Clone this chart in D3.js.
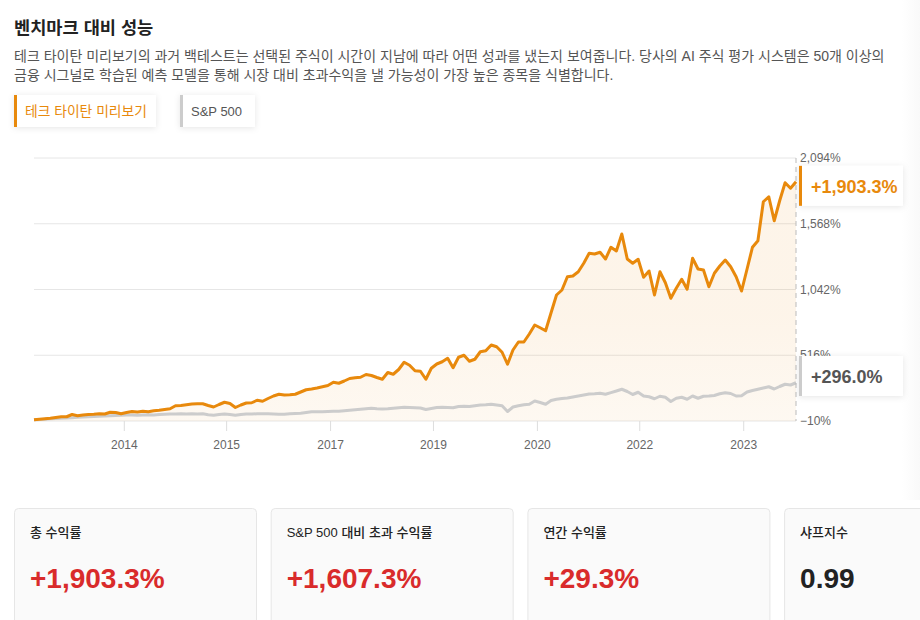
<!DOCTYPE html>
<html>
<head>
<meta charset="utf-8">
<script src="https://cdn.jsdelivr.net/npm/d3@7/dist/d3.min.js"></script>
<style>
  body { margin: 0; background: #fff; }
  svg { display: block; font-family: "Liberation Sans", "Noto Sans CJK KR", sans-serif; }
</style>
</head>
<body>
<svg id="chart" width="920" height="620"></svg>
<script>
const title = '벤치마크 대비 성능';
const description = [
  '테크 타이탄 미리보기의 과거 백테스트는 선택된 주식이 시간이 지남에 따라 어떤 성과를 냈는지 보여줍니다. 당사의 AI 주식 평가 시스템은 50개 이상의',
  '금융 시그널로 학습된 예측 모델을 통해 시장 대비 초과수익을 낼 가능성이 가장 높은 종목을 식별합니다.',
];
const seriesNames = ['테크 타이탄 미리보기', 'S&P 500'];

// cumulative return (%), one value per period
const portfolio = [
  0, 4, 8, 12, 18, 24, 24, 42, 32, 38,
  42, 44, 48, 46, 60, 58, 48, 58, 66, 62,
  68, 64, 72, 76, 82, 88, 112, 114, 120, 126,
  128, 128, 114, 102, 122, 140, 130, 98, 118, 134,
  136, 156, 148, 170, 190, 204, 198, 200, 204, 222,
  240, 246, 254, 264, 274, 300, 292, 310, 330, 336,
  340, 362, 354, 338, 324, 378, 364, 402, 460, 436,
  392, 388, 324, 412, 446, 464, 492, 416, 500, 516,
  468, 484, 544, 552, 598, 584, 540, 444, 558, 622,
  622, 686, 758, 736, 712, 856, 998, 1038, 1144, 1150,
  1184, 1252, 1332, 1326, 1340, 1286, 1380, 1350, 1486, 1286,
  1252, 1284, 1140, 1190, 998, 1184, 1096, 972, 1052, 1124,
  1044, 1292, 1206, 1198, 1064, 1172, 1230, 1278, 1224, 1144,
  1030, 1204, 1380, 1432, 1744, 1784, 1592, 1752, 1896, 1852,
  1903.3,
];
const sp500 = [
  0, 2, 4, 8, 10, 12, 14, 16, 20, 22,
  24, 26, 28, 30, 32, 34, 36, 38, 38, 36,
  38, 40, 38, 42, 44, 46, 46, 48, 46, 48,
  46, 48, 40, 36, 42, 46, 42, 36, 42, 46,
  46, 48, 48, 48, 46, 44, 44, 48, 50, 52,
  58, 64, 64, 64, 66, 68, 68, 72, 76, 80,
  84, 88, 92, 88, 86, 88, 92, 96, 100, 98,
  96, 94, 82, 90, 98, 100, 98, 96, 106, 108,
  106, 112, 118, 120, 124, 118, 112, 66, 102, 112,
  120, 124, 150, 138, 124, 154, 164, 170, 174, 182,
  190, 198, 206, 208, 212, 204, 217, 230, 244, 226,
  202, 220, 190, 184, 168, 188, 180, 146, 172, 180,
  164, 190, 172, 188, 190, 194, 208, 216, 210, 190,
  192, 222, 234, 244, 254, 264, 246, 266, 284, 278,
  296,
];

const yTicks = [-10, 516, 1042, 1568, 2094];
const xTickLabels = ['2014', '2015', '2017', '2019', '2020', '2022', '2023'];
const xTickIndex = [16.5, 35.3, 54.4, 73.3, 92.4, 111.2, 130.3];

const statLabels = ['총 수익률', 'S&P 500 대비 초과 수익률', '연간 수익률', '샤프지수'];
const statValues = ['+1,903.3%', '+1,607.3%', '+29.3%', '0.99'];

const ORANGE = '#e8890c';
const GREY = '#cccccc';
const RED = '#d92b2b';

const margin = { top: 158, right: 124, bottom: 199, left: 34 };
const width = 920 - margin.left - margin.right;
const height = 620 - margin.top - margin.bottom;

const svg = d3.select('#chart');
const defs = svg.append('defs');

const shadow = defs.append('filter')
  .attr('id', 'shadow')
  .attr('x', '-20%').attr('y', '-30%')
  .attr('width', '140%').attr('height', '160%');
shadow.append('feDropShadow')
  .attr('dx', 0).attr('dy', 1)
  .attr('stdDeviation', 3)
  .attr('flood-color', '#000')
  .attr('flood-opacity', 0.1);

const fade = defs.append('linearGradient')
  .attr('id', 'fade')
  .attr('gradientUnits', 'userSpaceOnUse')
  .attr('x1', 0).attr('x2', 0)
  .attr('y1', margin.top).attr('y2', margin.top + height);
fade.append('stop').attr('offset', 0).attr('stop-color', ORANGE).attr('stop-opacity', 0.09);
fade.append('stop').attr('offset', 1).attr('stop-color', ORANGE).attr('stop-opacity', 0.005);

const edge = defs.append('linearGradient')
  .attr('id', 'edge')
  .attr('x1', 0).attr('x2', 1).attr('y1', 0).attr('y2', 0);
edge.append('stop').attr('offset', 0).attr('stop-color', '#fff');
edge.append('stop').attr('offset', 1).attr('stop-color', '#f9f9f9');

svg.append('rect')
  .attr('x', 902).attr('y', 0)
  .attr('width', 18).attr('height', 500)
  .attr('fill', 'url(#edge)');

// header
svg.append('text')
  .attr('x', 14).attr('y', 34)
  .attr('font-size', 17.6)
  .attr('font-weight', 700)
  .attr('fill', '#222')
  .text(title);

svg.append('g')
  .selectAll('text')
  .data(description)
  .join('text')
  .attr('x', 14)
  .attr('y', (d, i) => 61 + i * 19)
  .attr('font-size', 14)
  .attr('fill', '#555')
  .text(d => d);

// legend buttons
const legend = svg.append('g')
  .selectAll('g')
  .data(seriesNames)
  .join('g')
  .attr('transform', (d, i) => `translate(${i === 0 ? 14 : 180}, 95)`);

legend.append('rect')
  .attr('width', (d, i) => (i === 0 ? 142 : 75))
  .attr('height', 32)
  .attr('fill', '#fff')
  .attr('filter', 'url(#shadow)');

legend.append('rect')
  .attr('width', 3)
  .attr('height', 32)
  .attr('fill', (d, i) => (i === 0 ? ORANGE : GREY));

legend.append('text')
  .attr('x', 11)
  .attr('y', 21)
  .attr('font-size', (d, i) => (i === 0 ? 13.8 : 13))
  .attr('fill', (d, i) => (i === 0 ? ORANGE : '#555'))
  .text(d => d);

// chart surface
const surface = svg.append('g')
  .attr('transform', `translate(${margin.left}, ${margin.top})`);

const x = d3.scaleLinear()
  .domain([0, portfolio.length - 1])
  .range([0, width]);

const y = d3.scaleLinear()
  .domain([yTicks[0], yTicks[yTicks.length - 1]])
  .range([height, 0]);

// grid lines
surface.append('g')
  .selectAll('line')
  .data(yTicks)
  .join('line')
  .attr('x1', 0)
  .attr('x2', width)
  .attr('y1', d => y(d))
  .attr('y2', d => y(d))
  .attr('stroke', '#e6e6e6');

// area under the portfolio line
const area = d3.area()
  .x((d, i) => x(i))
  .y0(height)
  .y1(d => y(d));

surface.append('path')
  .datum(portfolio)
  .attr('d', area)
  .attr('fill', 'url(#fade)');

const line = d3.line()
  .x((d, i) => x(i))
  .y(d => y(d));

surface.append('path')
  .datum(sp500)
  .attr('d', line)
  .attr('fill', 'none')
  .attr('stroke', GREY)
  .attr('stroke-width', 3)
  .attr('stroke-linejoin', 'round');

surface.append('path')
  .datum(portfolio)
  .attr('d', line)
  .attr('fill', 'none')
  .attr('stroke', ORANGE)
  .attr('stroke-width', 3)
  .attr('stroke-linejoin', 'round');

// dashed end marker
surface.append('line')
  .attr('x1', width).attr('x2', width)
  .attr('y1', 0).attr('y2', height)
  .attr('stroke', '#bbb')
  .attr('stroke-dasharray', '5,4');

// X axis
const xAxis = surface.append('g')
  .attr('transform', `translate(0, ${height})`)
  .call(d3.axisBottom(x)
    .tickValues(xTickIndex)
    .tickFormat((d, i) => xTickLabels[i])
    .tickSize(10)
    .tickPadding(9));
xAxis.select('.domain').remove();
xAxis.selectAll('line').attr('stroke', '#ddd');
xAxis.selectAll('text')
  .attr('font-family', null)
  .attr('font-size', 12)
  .attr('fill', '#666');

// Y axis labels on the right
surface.append('g')
  .selectAll('text')
  .data(yTicks)
  .join('text')
  .attr('x', width + 4)
  .attr('y', d => y(d))
  .attr('dy', '0.35em')
  .attr('font-size', 12)
  .attr('fill', '#666')
  .text(d => `${d3.format(',')(d)}%`);

// end value badges
const badgeFormat = d => `${d3.format('+,.1f')(d)}%`;
const badges = [
  { value: portfolio[portfolio.length - 1], color: ORANGE, text: ORANGE },
  { value: sp500[sp500.length - 1], color: GREY, text: '#555' },
];

const badge = surface.append('g')
  .selectAll('g')
  .data(badges)
  .join('g')
  .attr('transform', d => `translate(${width + 3}, ${Math.min(y(d.value) + 4, height - 45) - 20})`);

badge.append('rect')
  .attr('width', 104)
  .attr('height', 40)
  .attr('fill', '#fff')
  .attr('filter', 'url(#shadow)');

badge.append('rect')
  .attr('width', 3)
  .attr('height', 40)
  .attr('fill', d => d.color);

badge.append('text')
  .attr('x', 12)
  .attr('y', 27)
  .attr('font-size', 18)
  .attr('font-weight', 700)
  .attr('fill', d => d.text)
  .text(d => badgeFormat(d.value));

// stat cards
const card = svg.append('g')
  .selectAll('g')
  .data(statLabels)
  .join('g')
  .attr('transform', (d, i) => `translate(${14 + i * 256.7}, 508)`);

card.append('rect')
  .attr('x', 0.5).attr('y', 0.5)
  .attr('width', 242)
  .attr('height', 130)
  .attr('rx', 4)
  .attr('fill', '#fafafa')
  .attr('stroke', '#e6e6e6');

card.append('text')
  .attr('x', 16)
  .attr('y', 29)
  .attr('font-size', 13)
  .attr('font-weight', 500)
  .attr('fill', '#222')
  .text(d => d);

card.append('text')
  .attr('x', 16)
  .attr('y', 80)
  .attr('font-size', 28)
  .attr('font-weight', 700)
  .attr('fill', (d, i) => (statValues[i].startsWith('+') ? RED : '#222'))
  .text((d, i) => statValues[i]);
</script>
</body>
</html>
